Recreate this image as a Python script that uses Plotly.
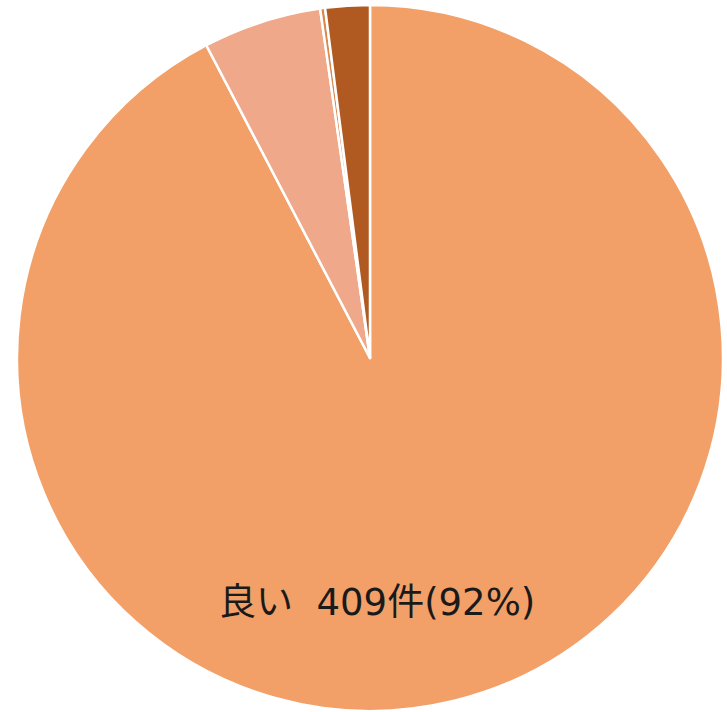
import plotly.graph_objects as go

labels = ["良い", "普通", "悪い", "無回答"]
values = [409, 24, 1, 9]
colors = ["#F2A068", "#F0A88A", "#D9884E", "#B05A22"]

total = sum(values)
label_text = f"{labels[0]}  {values[0]}件({round(values[0] / total * 100)}%)"

fig = go.Figure(go.Pie(
    labels=labels,
    values=values,
    sort=False,
    direction="clockwise",
    rotation=0,
    marker=dict(colors=colors, line=dict(color="white", width=2.5)),
    textinfo="none",
    hoverinfo="label+value+percent",
    showlegend=False,
))

fig.add_annotation(
    x=0.510, y=0.153, xref="paper", yref="paper",
    text=label_text, showarrow=False,
    font=dict(family="DejaVu Sans, Noto Sans CJK JP", size=37, color="#1a1a1a"),
    xanchor="center", yanchor="middle",
)

fig.update_layout(
    width=727, height=712,
    margin=dict(l=17, r=4, t=5, b=1),
    paper_bgcolor="white",
    plot_bgcolor="white",
)

fig.write_html("out.html", config={"displayModeBar": False},
               post_script="document.body.style.margin='0';")
